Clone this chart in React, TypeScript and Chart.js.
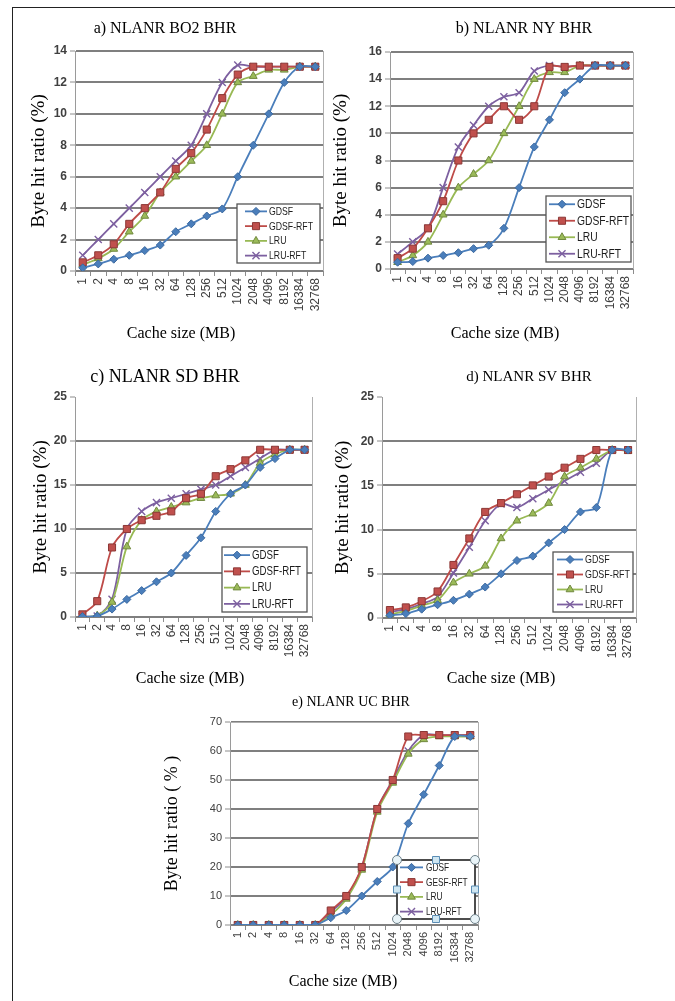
import React, { useEffect, useRef } from "react";
import { Chart, registerables } from "chart.js";

Chart.register(...registerables);

// ---------- data ----------
const cacheSizes = ["1", "2", "4", "8", "16", "32", "64", "128", "256", "512", "1024", "2048", "4096", "8192", "16384", "32768"];
const seriesNames = ["GDSF", "GDSF-RFT", "LRU", "LRU-RFT"];
const seriesNamesUC = ["GDSF", "GESF-RFT", "LRU", "LRU-RFT"];

// a) NLANR BO2
const bo2GDSF = [0.2, 0.45, 0.75, 1.0, 1.3, 1.65, 2.5, 3.0, 3.5, 3.95, 6.0, 8.0, 10.0, 12.0, 13.0, 13.0];
const bo2GDSFRFT = [0.55, 1.0, 1.7, 3.0, 4.0, 5.0, 6.5, 7.5, 9.0, 11.0, 12.5, 13.0, 13.0, 13.0, 13.0, 13.0];
const bo2LRU = [0.4, 0.8, 1.4, 2.5, 3.5, 5.0, 6.0, 7.0, 8.0, 10.0, 12.0, 12.4, 12.8, 12.8, 13.0, 13.0];
const bo2LRURFT = [1.0, 2.0, 3.0, 4.0, 5.0, 6.0, 7.0, 8.0, 10.0, 12.0, 13.1, 13.0, 13.0, 13.0, 13.0, 13.0];

// b) NLANR NY
const nyGDSF = [0.5, 0.55, 0.8, 1.0, 1.2, 1.5, 1.75, 3.0, 6.0, 9.0, 11.0, 13.0, 14.0, 15.0, 15.0, 15.0];
const nyGDSFRFT = [0.8, 1.5, 3.0, 5.0, 8.0, 10.0, 11.0, 12.0, 11.0, 12.0, 14.9, 14.9, 15.0, 15.0, 15.0, 15.0];
const nyLRU = [0.5, 1.0, 2.0, 4.0, 6.0, 7.0, 8.0, 10.0, 12.0, 14.0, 14.5, 14.5, 15.0, 15.0, 15.0, 15.0];
const nyLRURFT = [1.1, 2.0, 3.0, 6.0, 9.0, 10.6, 12.0, 12.7, 13.0, 14.6, 15.0, 14.9, 15.0, 15.0, 15.0, 15.0];

// c) NLANR SD
const sdGDSF = [0.05, 0.1, 0.9, 2.0, 3.0, 4.0, 5.0, 7.0, 9.0, 12.0, 14.0, 15.0, 17.0, 18.0, 19.0, 19.0];
const sdGDSFRFT = [0.3, 1.8, 7.9, 10.0, 11.0, 11.5, 12.0, 13.5, 14.0, 16.0, 16.8, 17.8, 19.0, 19.0, 19.0, 19.0];
const sdLRU = [0.0, 0.15, 1.7, 8.0, 11.0, 12.0, 12.5, 13.0, 13.5, 13.8, 14.0, 15.0, 17.5, 18.5, 19.0, 19.0];
const sdLRURFT = [0.05, 0.1, 2.0, 10.0, 12.0, 13.0, 13.5, 14.0, 14.5, 15.0, 16.0, 17.0, 18.0, 19.0, 19.0, 19.0];

// d) NLANR SV
const svGDSF = [0.3, 0.5, 1.0, 1.5, 2.0, 2.7, 3.5, 5.0, 6.5, 7.0, 8.5, 10.0, 12.0, 12.5, 19.0, 19.0];
const svGDSFRFT = [0.9, 1.2, 1.9, 3.0, 6.0, 9.0, 12.0, 13.0, 14.0, 15.0, 16.0, 17.0, 18.0, 19.0, 19.0, 19.0];
const svLRU = [0.4, 0.8, 1.4, 2.0, 4.0, 5.0, 5.9, 9.0, 11.0, 11.8, 13.0, 16.0, 17.0, 18.0, 19.0, 18.9];
const svLRURFT = [0.7, 1.0, 1.6, 2.4, 5.1, 8.0, 11.0, 12.9, 12.5, 13.5, 14.5, 15.5, 16.5, 17.5, 19.0, 19.0];

// e) NLANR UC
const ucGDSF = [0, 0, 0, 0, 0, 0, 2.5, 5.0, 10.0, 15.0, 20.0, 35.0, 45.0, 55.0, 65.0, 65.0];
const ucGDSFRFT = [0, 0, 0, 0, 0, 0, 5.0, 10.0, 20.0, 40.0, 50.0, 65.0, 65.5, 65.5, 65.5, 65.5];
const ucLRU = [0, 0, 0, 0, 0, 0, 3.5, 9.0, 19.0, 39.0, 49.0, 59.0, 64.0, 65.0, 65.0, 65.0];
const ucLRURFT = [0, 0, 0, 0, 0, 0, 4.5, 9.5, 20.0, 40.0, 50.0, 60.0, 65.5, 65.5, 65.5, 65.5];

// ---------- styles ----------
const SERIF = '"Liberation Serif", "Times New Roman", serif';
const SANS = '"Liberation Sans", Arial, sans-serif';

type Style = { line: string; fill: string; stroke: string; point: string; radius: number };
const seriesStyles: Style[] = [
  { line: "#4a7ebb", fill: "#4a7ebb", stroke: "#3b689e", point: "rectRot", radius: 4 },
  { line: "#be4b48", fill: "#c0504d", stroke: "#8c3836", point: "rect", radius: 5 },
  { line: "#98b954", fill: "#9bbb59", stroke: "#71893f", point: "triangle", radius: 4.5 },
  { line: "#7d60a0", fill: "#7d60a0", stroke: "#7d60a0", point: "crossRot", radius: 5 },
];

type Spec = {
  id: string;
  canvas: { left: number; top: number; width: number; height: number };
  area: { L: number; R: number; T: number; B: number };
  yW: number;
  xH: number;
  yMax: number;
  yStep: number;
  series: number[][];
  names: string[];
  title: { text: string; x: number; y: number; size: number };
  xTitle: { text: string; x: number; y: number; size: number };
  yTitle: { text: string; x: number; size: number };
  legend: { x: number; y: number; w: number; h: number; line0: number; line1: number; textX: number; size: number; refWidth: number; handles?: boolean };
  yTickSize: number;
  yTickBold: boolean;
  xTickSize: number;
  hideTopGrid: boolean;
  topFrame: boolean;
};

const specs: Spec[] = [
  {
    id: "a",
    canvas: { left: 14, top: 8, width: 322, height: 352 },
    area: { L: 75, R: 323, T: 51, B: 271 },
    yW: 61, xH: 45, yMax: 14, yStep: 2,
    series: [bo2GDSF, bo2GDSFRFT, bo2LRU, bo2LRURFT],
    names: seriesNames,
    title: { text: "a) NLANR BO2 BHR", x: 165, y: 29, size: 16 },
    xTitle: { text: "Cache size (MB)", x: 181, y: 334, size: 16 },
    yTitle: { text: "Byte hit ratio (%)", x: 39, size: 19 },
    legend: { x: 237, y: 204, w: 83, h: 59, line0: 8, line1: 30, textX: 32, size: 11, refWidth: 44 },
    yTickSize: 12, yTickBold: true, xTickSize: 12, hideTopGrid: false, topFrame: false,
  },
  {
    id: "b",
    canvas: { left: 328, top: 8, width: 347, height: 352 },
    area: { L: 390, R: 633, T: 52, B: 269 },
    yW: 62, xH: 45, yMax: 16, yStep: 2,
    series: [nyGDSF, nyGDSFRFT, nyLRU, nyLRURFT],
    names: seriesNames,
    title: { text: "b) NLANR NY BHR", x: 524, y: 29, size: 16 },
    xTitle: { text: "Cache size (MB)", x: 505, y: 334, size: 16 },
    yTitle: { text: "Byte hit ratio (%)", x: 341, size: 19 },
    legend: { x: 546, y: 196, w: 85, h: 66, line0: 3, line1: 29, textX: 31, size: 12, refWidth: 52 },
    yTickSize: 12, yTickBold: true, xTickSize: 12, hideTopGrid: false, topFrame: false,
  },
  {
    id: "c",
    canvas: { left: 14, top: 362, width: 322, height: 330 },
    area: { L: 75, R: 312, T: 397, B: 617 },
    yW: 61, xH: 45, yMax: 25, yStep: 5,
    series: [sdGDSF, sdGDSFRFT, sdLRU, sdLRURFT],
    names: seriesNames,
    title: { text: "c) NLANR SD BHR", x: 165, y: 377, size: 18 },
    xTitle: { text: "Cache size (MB)", x: 190, y: 679, size: 16 },
    yTitle: { text: "Byte hit ratio (%)", x: 41, size: 19 },
    legend: { x: 222, y: 547, w: 85, h: 65, line0: 2, line1: 28, textX: 30, size: 12, refWidth: 49 },
    yTickSize: 12, yTickBold: true, xTickSize: 12, hideTopGrid: true, topFrame: false,
  },
  {
    id: "d",
    canvas: { left: 328, top: 362, width: 347, height: 330 },
    area: { L: 382, R: 636, T: 397, B: 618 },
    yW: 54, xH: 45, yMax: 25, yStep: 5,
    series: [svGDSF, svGDSFRFT, svLRU, svLRURFT],
    names: seriesNames,
    title: { text: "d) NLANR SV BHR", x: 529, y: 377, size: 15 },
    xTitle: { text: "Cache size (MB)", x: 501, y: 679, size: 16 },
    yTitle: { text: "Byte hit ratio (%)", x: 343, size: 19 },
    legend: { x: 553, y: 552, w: 80, h: 60, line0: 4, line1: 30, textX: 32, size: 11, refWidth: 45 },
    yTickSize: 12, yTickBold: true, xTickSize: 12, hideTopGrid: true, topFrame: false,
  },
  {
    id: "e",
    canvas: { left: 150, top: 690, width: 360, height: 311 },
    area: { L: 230, R: 478, T: 722, B: 925 },
    yW: 80, xH: 45, yMax: 70, yStep: 10,
    series: [ucGDSF, ucGDSFRFT, ucLRU, ucLRURFT],
    names: seriesNamesUC,
    title: { text: "e) NLANR UC BHR", x: 351, y: 702, size: 14 },
    xTitle: { text: "Cache size (MB)", x: 343, y: 982, size: 16 },
    yTitle: { text: "Byte hit ratio ( % )", x: 172, size: 18 },
    legend: { x: 397, y: 860, w: 78, h: 59, line0: 3, line1: 26, textX: 29, size: 11, refWidth: 42, handles: true },
    yTickSize: 11, yTickBold: false, xTickSize: 11, hideTopGrid: false, topFrame: true,
  },
];

// ---------- drawing helpers ----------
function drawMarker(ctx: CanvasRenderingContext2D, st: Style, x: number, y: number) {
  const r = st.radius;
  ctx.save();
  ctx.fillStyle = st.fill;
  ctx.strokeStyle = st.stroke;
  ctx.lineWidth = 1;
  ctx.beginPath();
  if (st.point === "rectRot") {
    ctx.moveTo(x, y - r);
    ctx.lineTo(x + r, y);
    ctx.lineTo(x, y + r);
    ctx.lineTo(x - r, y);
    ctx.closePath();
    ctx.fill();
    ctx.stroke();
  } else if (st.point === "rect") {
    const s = r * Math.SQRT1_2;
    ctx.rect(x - s, y - s, 2 * s, 2 * s);
    ctx.fill();
    ctx.stroke();
  } else if (st.point === "triangle") {
    let rad = 0;
    ctx.moveTo(x + Math.sin(rad) * r, y - Math.cos(rad) * r);
    rad += (2 * Math.PI) / 3;
    ctx.lineTo(x + Math.sin(rad) * r, y - Math.cos(rad) * r);
    rad += (2 * Math.PI) / 3;
    ctx.lineTo(x + Math.sin(rad) * r, y - Math.cos(rad) * r);
    ctx.closePath();
    ctx.fill();
    ctx.stroke();
  } else {
    const s = r * Math.SQRT1_2;
    ctx.lineWidth = 1.4;
    ctx.moveTo(x - s, y - s);
    ctx.lineTo(x + s, y + s);
    ctx.moveTo(x + s, y - s);
    ctx.lineTo(x - s, y + s);
    ctx.stroke();
  }
  ctx.restore();
}

function decorPlugin(spec: Spec) {
  return {
    id: "decor_" + spec.id,
    afterDraw(chart: any) {
      const ctx: CanvasRenderingContext2D = chart.ctx;
      const ca = chart.chartArea;
      const ox = spec.canvas.left;
      const oy = spec.canvas.top;
      ctx.save();
      // plot frame (right side, and top for e)
      ctx.strokeStyle = "#b0b0b0";
      ctx.lineWidth = 1;
      ctx.beginPath();
      ctx.moveTo(Math.round(ca.right) + 0.5, ca.top);
      ctx.lineTo(Math.round(ca.right) + 0.5, ca.bottom);
      if (spec.topFrame) {
        ctx.moveTo(ca.left, Math.round(ca.top) + 0.5);
        ctx.lineTo(ca.right, Math.round(ca.top) + 0.5);
      }
      ctx.stroke();

      // chart title and x-axis title
      ctx.fillStyle = "#000";
      ctx.textAlign = "center";
      ctx.textBaseline = "middle";
      ctx.font = `${spec.title.size}px ${SERIF}`;
      ctx.fillText(spec.title.text, spec.title.x - ox, spec.title.y - oy);
      ctx.font = `${spec.xTitle.size}px ${SERIF}`;
      ctx.fillText(spec.xTitle.text, spec.xTitle.x - ox, spec.xTitle.y - oy);

      // legend
      const lg = spec.legend;
      const lx = lg.x - ox;
      const ly = lg.y - oy;
      ctx.fillStyle = "#ffffff";
      ctx.fillRect(lx, ly, lg.w, lg.h);
      ctx.strokeStyle = lg.handles ? "#3a3a3a" : "#555555";
      ctx.lineWidth = lg.handles ? 1.8 : 1.3;
      ctx.strokeRect(lx, ly, lg.w, lg.h);
      ctx.font = `${lg.size}px ${SANS}`;
      const factor = lg.refWidth / ctx.measureText("GDSF-RFT").width;
      chart.data.datasets.forEach((ds: any, i: number) => {
        const st = seriesStyles[i];
        const ry = ly + lg.h / 8 + (i * lg.h) / 4;
        ctx.strokeStyle = st.line;
        ctx.lineWidth = 1.8;
        ctx.beginPath();
        ctx.moveTo(lx + lg.line0, ry);
        ctx.lineTo(lx + lg.line1, ry);
        ctx.stroke();
        drawMarker(ctx, st, lx + (lg.line0 + lg.line1) / 2, ry);
        ctx.save();
        ctx.translate(lx + lg.textX, ry + 0.5);
        ctx.scale(factor, 1);
        ctx.fillStyle = "#1c1c1c";
        ctx.textAlign = "left";
        ctx.textBaseline = "middle";
        ctx.font = `${lg.size}px ${SANS}`;
        ctx.fillText(ds.label, 0, 0);
        ctx.restore();
      });
      if (lg.handles) {
        const xs = [lx, lx + lg.w / 2, lx + lg.w];
        const ys = [ly, ly + lg.h / 2, ly + lg.h];
        for (let yi = 0; yi < 3; yi++) {
          for (let xi = 0; xi < 3; xi++) {
            if (xi === 1 && yi === 1) continue;
            const hx = xs[xi];
            const hy = ys[yi];
            ctx.beginPath();
            if ((xi === 1) !== (yi === 1)) {
              ctx.fillStyle = "#cfe6f1";
              ctx.strokeStyle = "#5b8db5";
              ctx.lineWidth = 1;
              ctx.rect(hx - 3.5, hy - 3.5, 7, 7);
            } else {
              ctx.fillStyle = "#e9f4f8";
              ctx.strokeStyle = "#6d7f88";
              ctx.lineWidth = 1;
              ctx.arc(hx, hy, 4.5, 0, Math.PI * 2);
            }
            ctx.fill();
            ctx.stroke();
          }
        }
      }
      ctx.restore();
    },
  };
}

function buildConfig(spec: Spec): any {
  const { canvas, area, yW, xH } = spec;
  const padding = {
    left: area.L - canvas.left - yW,
    top: area.T - canvas.top,
    right: canvas.left + canvas.width - area.R,
    bottom: canvas.top + canvas.height - area.B - xH,
  };
  const yTitlePad = spec.yTitle.x - (area.L - yW) - (spec.yTitle.size * 1.2) / 2;
  const datasets = spec.series.map((values, i) => {
    const st = seriesStyles[i];
    return {
      label: spec.names[i],
      data: values,
      borderColor: st.line,
      backgroundColor: st.fill,
      borderWidth: 1.8,
      pointStyle: st.point,
      pointRadius: st.radius,
      pointBackgroundColor: st.fill,
      pointBorderColor: st.stroke,
      pointBorderWidth: st.point === "crossRot" ? 1.4 : 1,
      tension: 0.3,
      fill: false,
    };
  });
  return {
    type: "line",
    data: { labels: cacheSizes, datasets },
    options: {
      animation: false,
      responsive: false,
      devicePixelRatio: 1,
      events: [],
      layout: { padding },
      plugins: { legend: { display: false }, tooltip: { enabled: false }, title: { display: false } },
      scales: {
        x: {
          type: "category",
          offset: true,
          grid: { offset: true, drawOnChartArea: false, drawTicks: true, tickLength: 5, color: "#8c8c8c", lineWidth: 1 },
          border: { display: false },
          ticks: {
            autoSkip: false,
            minRotation: 90,
            maxRotation: 90,
            padding: 2,
            color: "#404040",
            font: { family: SANS, size: spec.xTickSize },
          },
          afterFit: (s: any) => {
            s.height = xH;
          },
        },
        y: {
          min: 0,
          max: spec.yMax,
          ticks: {
            stepSize: spec.yStep,
            padding: 3,
            color: "#404040",
            font: { family: SANS, size: spec.yTickSize, weight: spec.yTickBold ? "bold" : "normal" },
          },
          grid: {
            color: (c: any) => (spec.hideTopGrid && c.tick && c.tick.value === spec.yMax ? "rgba(0,0,0,0)" : "#7f7f7f"),
            lineWidth: 2,
            drawTicks: true,
            tickLength: 5,
            tickWidth: 1,
            tickColor: "#8c8c8c",
          },
          border: { display: true, color: "#9a9a9a", width: 1 },
          title: {
            display: true,
            text: spec.yTitle.text,
            color: "#000",
            font: { family: SERIF, size: spec.yTitle.size },
            padding: { top: yTitlePad, bottom: 0 },
          },
          afterFit: (s: any) => {
            s.width = yW;
          },
        },
      },
    },
    plugins: [decorPlugin(spec)],
  };
}

function ChartPanel({ spec }: { spec: Spec }) {
  const ref = useRef<HTMLCanvasElement>(null);
  useEffect(() => {
    if (!ref.current) return;
    const chart = new Chart(ref.current, buildConfig(spec));
    return () => chart.destroy();
  }, [spec]);
  const c = spec.canvas;
  return (
    <canvas
      ref={ref}
      width={c.width}
      height={c.height}
      style={{ position: "absolute", left: c.left, top: c.top, width: c.width, height: c.height }}
    />
  );
}

export default function App() {
  return (
    <div style={{ position: "absolute", left: 0, top: 0, width: 675, height: 1001, overflow: "hidden", background: "#ffffff" }}>
      <div
        style={{
          position: "absolute",
          left: 12,
          top: 7,
          width: 720,
          height: 1010,
          borderTop: "1.5px solid #222",
          borderLeft: "1.5px solid #222",
        }}
      />
      {specs.map((s) => (
        <ChartPanel key={s.id} spec={s} />
      ))}
    </div>
  );
}
